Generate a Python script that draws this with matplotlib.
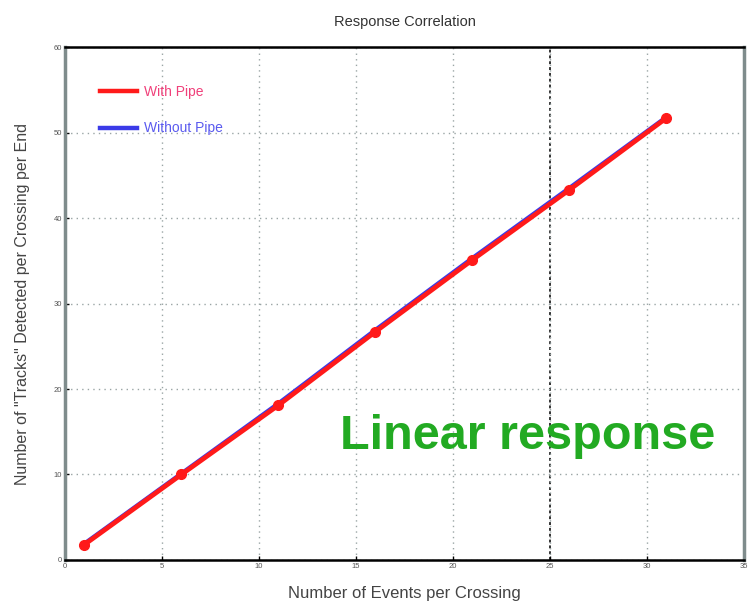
import matplotlib
matplotlib.use("Agg")
import matplotlib.pyplot as plt
from matplotlib.lines import Line2D

plt.rcParams['font.family'] = ['Liberation Sans', 'DejaVu Sans']

# Events per crossing and the detected track counts per crossing per end
events = [1, 6, 11, 16, 21, 26, 31]
with_pipe = [1.8, 10.0, 18.1, 26.7, 35.1, 43.3, 51.7]
without_pipe = [1.9, 10.1, 18.3, 26.9, 35.3, 43.5, 51.8]

x_ticks = [0, 5, 10, 15, 20, 25, 30, 35]
y_ticks = [0, 10, 20, 30, 40, 50, 60]

fig = plt.figure(figsize=(7.49, 6.02), dpi=100)
ax = fig.add_axes([0.0868, 0.0698, 0.9065, 0.852])

ax.set_xlim(0, 35)
ax.set_ylim(0, 60)
ax.set_xticks(x_ticks)
ax.set_yticks(y_ticks)
ax.tick_params(direction='in', length=3, width=1, labelsize=5.5,
               labelcolor='#555555', colors='black', pad=2)
for lbl in ax.get_xticklabels() + ax.get_yticklabels():
    lbl.set_color('#555555')

# dotted grid
ax.grid(True, color='#9aa5a5', linestyle=(0, (1, 3)), linewidth=1.0)
ax.axvline(25, color='#333333', linestyle=(0, (1.5, 1.5)), linewidth=1.4, zorder=1)

for side in ['top', 'bottom']:
    ax.spines[side].set_color('black')
    ax.spines[side].set_linewidth(1.8)
for side in ['left', 'right']:
    ax.spines[side].set_color('#7f8c8c')
    ax.spines[side].set_linewidth(2.5)

ax.plot(events, without_pipe, color='#3a3ae8', linewidth=3.2, zorder=3)
ax.plot(events, with_pipe, color='#ff1a1a', linewidth=3.4, marker='o',
        markersize=7, zorder=4)

handles = [Line2D([], [], color='#ff1a1a', linewidth=3.2),
           Line2D([], [], color='#3a3ae8', linewidth=3.2)]
leg = ax.legend(handles, ['With Pipe', 'Without Pipe'], loc='upper left',
                bbox_to_anchor=(0.033, 0.95), frameon=False, fontsize=10,
                handlelength=2.7, handletextpad=0.5, labelspacing=1.6)
leg.get_texts()[0].set_color('#f0407a')
leg.get_texts()[1].set_color('#5a5aef')

ax.text(14.2, 13.0, 'Linear response', color='#22aa22', fontsize=35,
        fontweight='bold', ha='left', va='baseline', zorder=5)

ax.set_title('Response Correlation', fontsize=10.5, color='#333333', pad=15)
ax.set_xlabel('Number of Events per Crossing', fontsize=12, color='#444444',
              labelpad=12)
ax.set_ylabel('Number of "Tracks" Detected per Crossing per End', fontsize=11.5,
              color='#444444', labelpad=17)

fig.savefig('out.png', dpi=100)
